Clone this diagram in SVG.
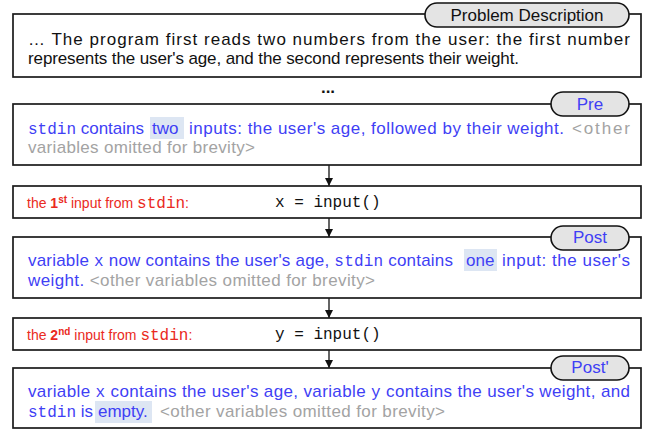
<svg xmlns="http://www.w3.org/2000/svg" width="653" height="432" viewBox="0 0 653 432">
<defs>
<marker id="ah" viewBox="0 0 8 10" refX="8" refY="5" markerWidth="8" markerHeight="10" markerUnits="userSpaceOnUse" orient="auto">
<path d="M0,1 L8,5 L0,9 Z" fill="#111"/>
</marker>
<style>
.box{fill:#fff;stroke:#1a1a1a;stroke-width:1.7}
.pill{fill:#e4e4e4;stroke:#111;stroke-width:1.6}
.t{font-family:"Liberation Sans",Arial,sans-serif;font-size:17px}
.blk{fill:#111}
.blue{fill:#3f3ff5}
.gray{fill:#a3a3a3}
.mono{font-family:"Liberation Mono","DejaVu Sans Mono",monospace;font-size:16px}
.red{font-family:"Liberation Sans",Arial,sans-serif;font-size:14px;fill:#ea2a22}
.code{font-family:"Liberation Mono","DejaVu Sans Mono",monospace;font-size:16px;fill:#111}
.hl{fill:#dde6f3}
.pt{font-family:"Liberation Sans",Arial,sans-serif;font-size:17px;text-anchor:middle}
.conn{stroke:#111;stroke-width:1.3;fill:none}
</style>
</defs>

<g id="connectors">
<line class="conn" x1="329" y1="165" x2="329" y2="186" marker-end="url(#ah)"/>
<line class="conn" x1="329" y1="218" x2="329" y2="237" marker-end="url(#ah)"/>
<line class="conn" x1="329" y1="298" x2="329" y2="318" marker-end="url(#ah)"/>
<line class="conn" x1="329" y1="350" x2="329" y2="368" marker-end="url(#ah)"/>
</g>

<g id="problem">
<rect class="box" x="13" y="14" width="628" height="63"/>
<rect class="pill" x="425" y="3" width="204" height="24" rx="12" ry="12"/>
<text class="pt blk" x="527" y="21">Problem Description</text>
<text class="t blk" x="28" y="45" textLength="602" lengthAdjust="spacing">… The program first reads two numbers from the user: the first number</text>
<text class="t blk" x="28" y="64" textLength="491" lengthAdjust="spacing">represents the user's age, and the second represents their weight.</text>
</g>

<g id="ellipsis">
<text class="t blk" x="328" y="93" text-anchor="middle" font-weight="bold">...</text>
</g>

<g id="pre">
<rect class="box" x="13" y="104" width="628" height="61"/>
<rect class="hl" x="150" y="117" width="34" height="22"/>
<rect class="pill" x="551" y="92" width="78" height="24" rx="12" ry="12"/>
<text class="pt blue" x="590" y="110">Pre</text>
<text class="t blue" x="28" y="134" textLength="116" lengthAdjust="spacing"><tspan class="mono">stdin</tspan> contains</text>
<text class="t blue" x="152" y="134">two</text>
<text class="t blue" x="189" y="134" textLength="375" lengthAdjust="spacing">inputs: the user's age, followed by their weight.</text>
<text class="t gray" x="572" y="134" textLength="58" lengthAdjust="spacing">&lt;other</text>
<text class="t gray" x="28" y="153" textLength="227" lengthAdjust="spacing">variables omitted for brevity&gt;</text>
</g>

<g id="stmt1">
<rect class="box" x="13" y="186" width="628" height="32"/>
<text class="red" x="27" y="208">the <tspan font-weight="bold">1</tspan><tspan font-weight="bold" font-size="10" dy="-5">st</tspan><tspan dy="5"> input from </tspan><tspan class="mono" font-size="14">stdin</tspan>:</text>
<text class="code" x="275" y="207">x = input()</text>
</g>

<g id="post">
<rect class="box" x="13" y="237" width="628" height="61"/>
<rect class="hl" x="464" y="249" width="33" height="22"/>
<rect class="pill" x="551" y="226" width="78" height="24" rx="12" ry="12"/>
<text class="pt blue" x="590" y="243">Post</text>
<text class="t blue" x="28" y="266" textLength="425" lengthAdjust="spacing">variable <tspan class="mono">x</tspan> now contains the user's age, <tspan class="mono">stdin</tspan> contains</text>
<text class="t blue" x="466" y="266">one</text>
<text class="t blue" x="502" y="266" textLength="128" lengthAdjust="spacing">input: the user's</text>
<text class="t" x="28" y="286" textLength="347" lengthAdjust="spacing"><tspan class="blue">weight. </tspan><tspan class="gray">&lt;other variables omitted for brevity&gt;</tspan></text>
</g>

<g id="stmt2">
<rect class="box" x="13" y="318" width="628" height="32"/>
<text class="red" x="27" y="340">the <tspan font-weight="bold">2</tspan><tspan font-weight="bold" font-size="10" dy="-5">nd</tspan><tspan dy="5"> input from </tspan><tspan class="mono" font-size="14">stdin</tspan>:</text>
<text class="code" x="275" y="339">y = input()</text>
</g>

<g id="post2">
<rect class="box" x="13" y="368" width="628" height="60"/>
<rect class="hl" x="95" y="401" width="57" height="22"/>
<rect class="pill" x="551" y="356" width="78" height="24" rx="12" ry="12"/>
<text class="pt blue" x="590" y="373">Post'</text>
<text class="t blue" x="28" y="397" textLength="602" lengthAdjust="spacing">variable <tspan class="mono">x</tspan> contains the user's age, variable <tspan class="mono">y</tspan> contains the user's weight, and</text>
<text class="t blue" x="28" y="417"><tspan class="mono">stdin</tspan> is</text>
<text class="t blue" x="98" y="417">empty.</text>
<text class="t gray" x="160" y="417" textLength="285" lengthAdjust="spacing">&lt;other variables omitted for brevity&gt;</text>
</g>
</svg>
